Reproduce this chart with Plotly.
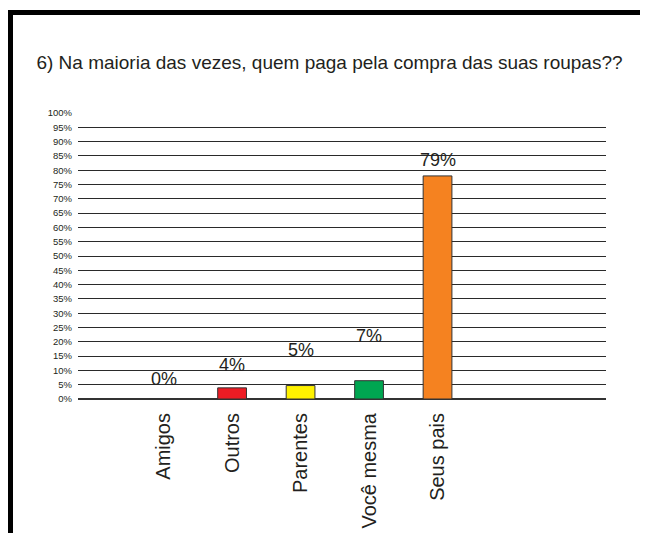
import plotly.graph_objects as go

categories = ["Amigos", "Outros", "Parentes", "Você mesma", "Seus pais"]
values = [0.0, 3.9, 4.7, 6.4, 78.0]
value_labels = ["0%", "4%", "5%", "7%", "79%"]
bar_colors = ["#FFFFFF", "#ED1C24", "#FFF200", "#00A651", "#F58220"]
y_ticks = list(range(0, 101, 5))
y_tick_labels = [f"{t}%" for t in y_ticks]
title_text = "6) Na maioria das vezes, quem paga pela compra das suas roupas??"

# layout (pixels); page body has an 8px offset
OFF = 8
W, H = 648, 533
L, R, T, B = 78 - OFF, 42 + OFF, 113 - OFF, 134 + OFF
label_shift_px = [20, 23, 36, 45, 16]

def px_x(px):
    return (px - OFF - L) / (W - L - R)

def px_y(py):
    return (H - B - (py - OFF)) / (H - T - B)

fig = go.Figure()
fig.add_trace(go.Bar(
    x=list(range(len(categories))),
    y=values,
    width=0.42,
    marker=dict(color=bar_colors, line=dict(color="#333333", width=1)),
    showlegend=False,
    hoverinfo="skip",
))

for i, (v, lab) in enumerate(zip(values, value_labels)):
    fig.add_annotation(
        x=i, y=v, text=lab, showarrow=False, xref="x", yref="y",
        yanchor="middle", yshift=label_shift_px[i],
        font=dict(family="Liberation Sans, Arial", size=18, color="#231F20"),
    )

# black frame
fig.add_shape(type="rect", xref="paper", yref="paper",
              x0=px_x(10.5), x1=px_x(700), y0=px_y(600), y1=px_y(12.5),
              line=dict(color="#000000", width=5), fillcolor="rgba(0,0,0,0)",
              layer="above")

fig.update_layout(
    width=W, height=H,
    margin=dict(l=L, r=R, t=T, b=B, autoexpand=False),
    paper_bgcolor="white", plot_bgcolor="white",
    font=dict(family="Liberation Sans, Arial", color="#231F20"),
    title=dict(text=title_text, xref="container", yref="container",
               x=(329.5 - OFF) / W, y=1 - (62 - OFF) / H,
               xanchor="center", yanchor="middle",
               font=dict(size=19, color="#231F20")),
    xaxis=dict(
        range=[-1.25, 6.46],
        tickmode="array", tickvals=list(range(len(categories))), ticktext=categories,
        tickangle=-90, tickfont=dict(size=20, color="#231F20"),
        showgrid=False, zeroline=False, showline=False,
        ticks="", ticklabelstandoff=9,
    ),
    yaxis=dict(
        range=[0, 100],
        tickmode="array", tickvals=y_ticks, ticktext=y_tick_labels,
        tickfont=dict(size=9.5, color="#231F20"),
        showgrid=True, gridcolor="#2a2a2a", gridwidth=1,
        zeroline=True, zerolinecolor="#333333", zerolinewidth=2,
        showline=False, ticks="", ticklabelstandoff=5,
    ),
)

fig.write_html("out.html")
